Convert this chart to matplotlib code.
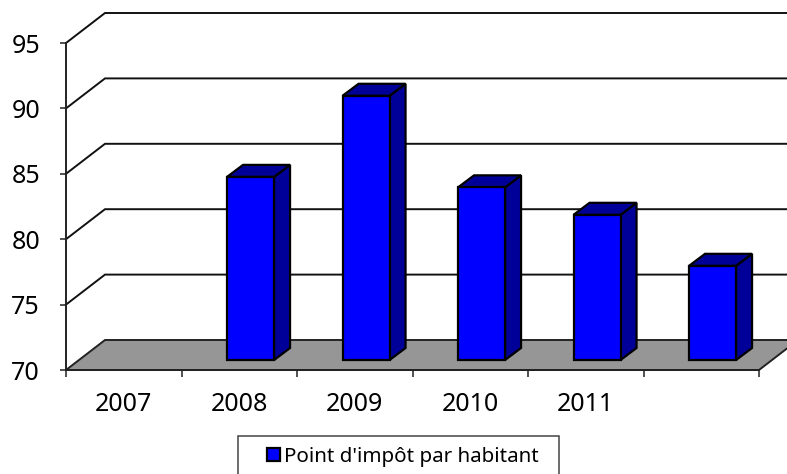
import matplotlib
matplotlib.use('Agg')
import matplotlib.pyplot as plt
from matplotlib.patches import Polygon, Patch, Rectangle

plt.rcParams['font.family'] = ['Noto Sans', 'DejaVu Sans']

year_labels = ['2007', '2008', '2009', '2010', '2011', '']
bar_slots = [1, 2, 3, 4, 5]
points = [84.0, 90.2, 83.2, 81.1, 77.2]
y_ticks = [70, 75, 80, 85, 90, 95]
series_name = "Point d'impôt par habitant"

W, H = 787, 474
# px per data unit
sx = 693 / 6
sy = 327 / 25

fig = plt.figure(figsize=(W / 100, H / 100), dpi=100)
ax = fig.add_axes([66 / W, (H - 370) / H, 693 / W, 327 / H])
ax.set_xlim(0, 6)
ax.set_ylim(70, 95)

# depth of the fake 3d box, in data units
wall_dx = 39 / sx
wall_dy = 30 / sy
bar_dx = 16 / sx
bar_dy = 12 / sy
bar_w = 47 / sx
bar_shift = 11.3 / sx
bar_lift = 10 / sy

ax.add_patch(Polygon([(0, 70), (wall_dx, 70 + wall_dy), (6 + wall_dx, 70 + wall_dy), (6, 70)],
                     closed=True, facecolor='#969696', edgecolor='#222222', linewidth=1.4,
                     clip_on=False, zorder=1))

for t in y_ticks[1:]:
    ax.plot([0, wall_dx, 6 + wall_dx], [t, t + wall_dy, t + wall_dy], color='#111111',
            linewidth=1.4, clip_on=False, zorder=1, solid_joinstyle='miter')

for slot, v in zip(bar_slots, points):
    x0 = slot + 0.5 + bar_shift - bar_w / 2
    x1 = x0 + bar_w
    y0 = 70 + bar_lift
    y1 = v + bar_lift
    edge = dict(edgecolor='black', linewidth=1.6, clip_on=False, zorder=3, joinstyle='miter')
    ax.add_patch(Polygon([(x1, y0), (x1 + bar_dx, y0 + bar_dy), (x1 + bar_dx, y1 + bar_dy), (x1, y1)],
                         closed=True, facecolor='#000099', **edge))
    ax.add_patch(Polygon([(x0, y1), (x0 + bar_dx, y1 + bar_dy), (x1 + bar_dx, y1 + bar_dy), (x1, y1)],
                         closed=True, facecolor='#000099', **edge))
    ax.add_patch(Polygon([(x0, y0), (x1, y0), (x1, y1), (x0, y1)],
                         closed=True, facecolor='#0000FF', **edge))

for s in ['top', 'right']:
    ax.spines[s].set_visible(False)
for s in ['left', 'bottom']:
    ax.spines[s].set_color('#222222')
    ax.spines[s].set_linewidth(1.4)
ax.set_zorder(2)
ax.patch.set_visible(False)

ax.set_yticks(y_ticks)
ax.tick_params(axis='y', length=4.3, width=1.1, color='#222222', labelsize=18, pad=14.4)
ax.set_xticks(range(7))
ax.set_xticklabels([])
ax.set_xticks([i + 0.5 for i in range(6)], minor=True)
ax.set_xticklabels(year_labels, minor=True, fontsize=18)
ax.tick_params(axis='x', which='major', length=5, width=1.1, color='#222222')
ax.tick_params(axis='x', which='minor', length=0, pad=16)

# legend box runs off the bottom of the picture
fig.add_artist(Rectangle((238 / W, -5 / H), 321 / W, (H - 436 + 5) / H, transform=fig.transFigure,
                         facecolor='white', edgecolor='#444444', linewidth=1.1))
leg_handle = Patch(facecolor='#0000FF', edgecolor='black', linewidth=1.6, label=series_name)
leg = fig.legend(handles=[leg_handle], loc='center', bbox_to_anchor=(403 / W, (H - 457) / H),
                 fontsize=14.8, frameon=False, handlelength=0.62, handleheight=0.62,
                 handletextpad=0.2, borderpad=0, borderaxespad=0)

fig.savefig('out.png', dpi=100)
